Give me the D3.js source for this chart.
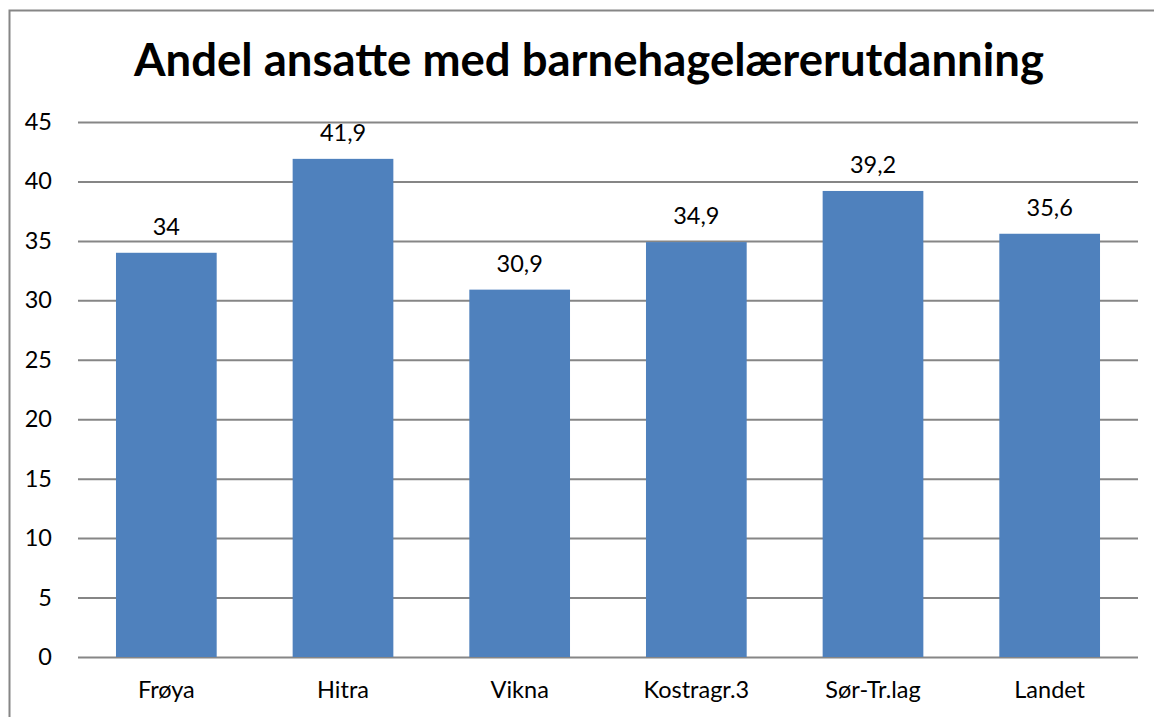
<!DOCTYPE html>
<html>
<head>
<meta charset="utf-8">
<script src="https://cdn.jsdelivr.net/npm/d3@7"></script>
<style>
  body { margin: 0; background: #fff; }
  text { font-family: Lato, "Open Sans", sans-serif; fill: #000; }
</style>
</head>
<body>
<div id="chart"></div>
<script>
const categories = ['Frøya', 'Hitra', 'Vikna', 'Kostragr.3', 'Sør-Tr.lag', 'Landet'];
const values = [34, 41.9, 30.9, 34.9, 39.2, 35.6];
const yTicks = [0, 5, 10, 15, 20, 25, 30, 35, 40, 45];
const title = 'Andel ansatte med barnehagelærerutdanning';

const width = 1154, height = 717;
const margin = {top: 122, right: 16, bottom: 60, left: 78};
const labelSize = 23.5;

const svg = d3.select('#chart').append('svg')
  .attr('width', width)
  .attr('height', height);

// outer chart frame (right and bottom fall outside the picture)
svg.append('rect')
  .attr('x', 9.5).attr('y', 10.5)
  .attr('width', width + 20).attr('height', height + 20)
  .attr('fill', 'none')
  .attr('stroke', '#868686')
  .attr('stroke-width', 2);

svg.append('text')
  .attr('x', 589).attr('y', 76)
  .attr('text-anchor', 'middle')
  .attr('font-size', 45.5)
  .attr('font-weight', 'bold')
  .text(title);

const x = d3.scaleBand()
  .domain(categories)
  .range([margin.left, width - margin.right])
  .paddingInner(0.43)
  .paddingOuter(0.215);

const y = d3.scaleLinear()
  .domain([0, 45])
  .range([height - margin.bottom, margin.top]);

const yAxis = svg.append('g')
  .attr('transform', `translate(${margin.left},0)`)
  .call(d3.axisLeft(y).tickValues(yTicks).tickSize(-(width - margin.left - margin.right)).tickPadding(26));
yAxis.select('.domain').remove();
yAxis.selectAll('.tick line').attr('stroke', '#868686').attr('stroke-width', 2);
yAxis.selectAll('.tick text').attr('font-size', labelSize).attr('font-family', 'Lato, sans-serif').attr('fill', '#000');

svg.append('g')
  .selectAll('rect')
  .data(values)
  .join('rect')
  .attr('x', (d, i) => x(categories[i]))
  .attr('y', d => y(d))
  .attr('width', x.bandwidth())
  .attr('height', d => y(0) - y(d))
  .attr('fill', '#4F81BD');

svg.append('g')
  .selectAll('text')
  .data(values)
  .join('text')
  .attr('x', (d, i) => x(categories[i]) + x.bandwidth() / 2)
  .attr('y', d => y(d) - 18)
  .attr('text-anchor', 'middle')
  .attr('font-size', labelSize)
  .text(d => String(d).replace('.', ','));

const xAxis = svg.append('g')
  .attr('transform', `translate(0,${y(0)})`)
  .call(d3.axisBottom(x).tickSize(0).tickPadding(24));
xAxis.select('.domain').remove();
xAxis.selectAll('.tick text').attr('font-size', labelSize).attr('font-family', 'Lato, sans-serif').attr('fill', '#000');
</script>
</body>
</html>
